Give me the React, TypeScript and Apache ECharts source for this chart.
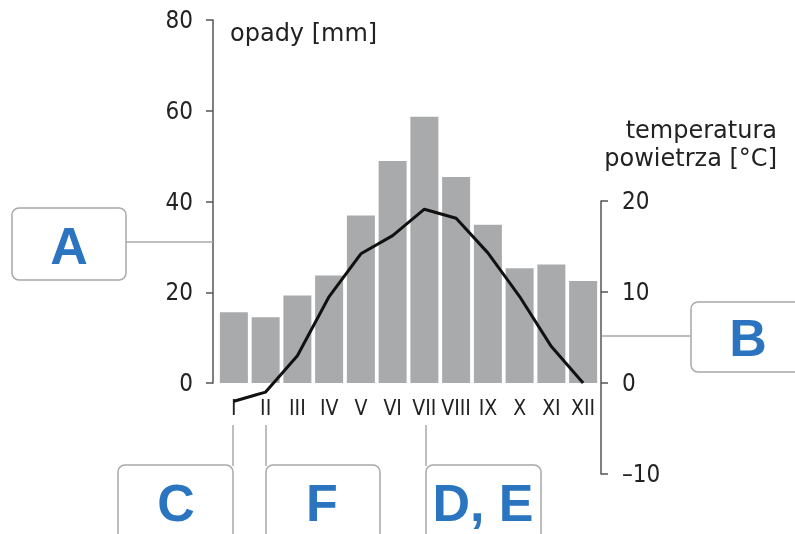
import React, { useEffect, useRef } from "react";
import * as echarts from "echarts";

const months = ["I", "II", "III", "IV", "V", "VI", "VII", "VIII", "IX", "X", "XI", "XII"];
const precipitation = [15.6, 14.5, 19.3, 23.7, 36.9, 48.9, 58.7, 45.4, 34.9, 25.3, 26.1, 22.5];
const temperature = [-2, -1, 3, 9.5, 14.2, 16.2, 19.1, 18.1, 14.3, 9.5, 4, 0];
const precipTicks = { min: 0, max: 80, interval: 20 };
const tempTicks = { min: -10, max: 20, interval: 10 };

const NARROW = "'Liberation Sans Narrow', 'DejaVu Sans Condensed', Roboto, sans-serif";
const SANS = "'DejaVu Sans', 'Noto Sans', sans-serif";
const BOLD = "'Liberation Sans', Arial, sans-serif";
const BLUE = "#2a74c0";
const AXIS = "#555";
const BOX = "#a8a8a8";

function box(x: number, y: number, w: number, h: number, label: string, cx: number, cy: number) {
  return [
    {
      type: "rect",
      shape: { x, y, width: w, height: h, r: 7 },
      style: { fill: "#fff", stroke: BOX, lineWidth: 1.5 },
      z: 10,
    },
    {
      type: "text",
      style: {
        x: cx,
        y: cy,
        text: label,
        fill: BLUE,
        font: `bold 52px ${BOLD}`,
        textAlign: "center",
        textVerticalAlign: "middle",
      },
      z: 11,
    },
  ];
}

function vline(x: number, y1: number, y2: number) {
  return {
    type: "line",
    shape: { x1: x, y1, x2: x, y2 },
    style: { stroke: BOX, lineWidth: 1.5 },
    z: 9,
  };
}

function hline(x1: number, x2: number, y: number) {
  return {
    type: "line",
    shape: { x1, y1: y, x2, y2: y },
    style: { stroke: BOX, lineWidth: 1.5 },
    z: 9,
  };
}

export default function App() {
  const ref = useRef<HTMLDivElement>(null);

  useEffect(() => {
    if (!ref.current) return;
    const chart = echarts.init(ref.current, undefined, { renderer: "svg" });
    const axisStyle = {
      axisLine: { show: true, lineStyle: { color: AXIS, width: 1.5 } },
      axisTick: { show: true, length: 7, inside: false, lineStyle: { color: AXIS, width: 1.5 } },
      splitLine: { show: false },
    };
    chart.setOption({
      animation: false,
      grid: [
        { left: 218, width: 381, top: 20, height: 363 },
        { left: 218, width: 381, top: 201, height: 273 },
      ],
      xAxis: [
        {
          type: "category",
          gridIndex: 0,
          data: months,
          boundaryGap: true,
          axisLine: { show: false },
          axisTick: { show: false },
          axisLabel: { interval: 0, fontSize: 21, fontFamily: NARROW, color: "#222", margin: 14 },
        },
        {
          type: "category",
          gridIndex: 1,
          data: months,
          boundaryGap: true,
          show: false,
        },
      ],
      yAxis: [
        {
          type: "value",
          gridIndex: 0,
          position: "left",
          offset: 5,
          min: precipTicks.min,
          max: precipTicks.max,
          interval: precipTicks.interval,
          ...axisStyle,
          axisLabel: { fontSize: 24, fontFamily: NARROW, color: "#222", margin: 20 },
        },
        {
          type: "value",
          gridIndex: 1,
          position: "right",
          offset: 2,
          min: tempTicks.min,
          max: tempTicks.max,
          interval: tempTicks.interval,
          ...axisStyle,
          axisLabel: {
            fontSize: 24,
            fontFamily: NARROW,
            color: "#222",
            margin: 21,
            formatter: (v: number) => String(v).replace("-", "\u2013"),
          },
        },
      ],
      series: [
        {
          type: "bar",
          xAxisIndex: 0,
          yAxisIndex: 0,
          data: precipitation,
          barWidth: 28,
          itemStyle: { color: "#a9aaab" },
          z: 2,
        },
        {
          type: "line",
          xAxisIndex: 1,
          yAxisIndex: 1,
          data: temperature,
          symbol: "none",
          lineStyle: { color: "#111", width: 3 },
          z: 3,
        },
      ],
      graphic: [
        {
          type: "text",
          style: { x: 230, y: 33, text: "opady [mm]", fill: "#222", font: `24px ${SANS}`, textVerticalAlign: "middle" },
        },
        {
          type: "text",
          style: {
            x: 777,
            y: 130,
            text: "temperatura",
            fill: "#222",
            font: `24px ${SANS}`,
            textAlign: "right",
            textVerticalAlign: "middle",
          },
        },
        {
          type: "text",
          style: {
            x: 777,
            y: 158,
            text: "powietrza [°C]",
            fill: "#222",
            font: `24px ${SANS}`,
            textAlign: "right",
            textVerticalAlign: "middle",
          },
        },
        hline(126, 213, 242),
        hline(602, 691, 336),
        vline(233, 425, 466),
        vline(266, 425, 466),
        vline(426, 425, 466),
        ...box(12, 208, 114, 72, "A", 69, 246),
        ...box(691, 302, 130, 70, "B", 748, 338),
        ...box(118, 465, 115, 90, "C", 176, 503),
        ...box(266, 465, 114, 90, "F", 322, 503),
        ...box(426, 465, 115, 90, "D, E", 483, 503),
      ],
    });
    return () => chart.dispose();
  }, []);

  return <div ref={ref} style={{ position: "fixed", left: 0, top: 0, width: 795, height: 534 }} />;
}
